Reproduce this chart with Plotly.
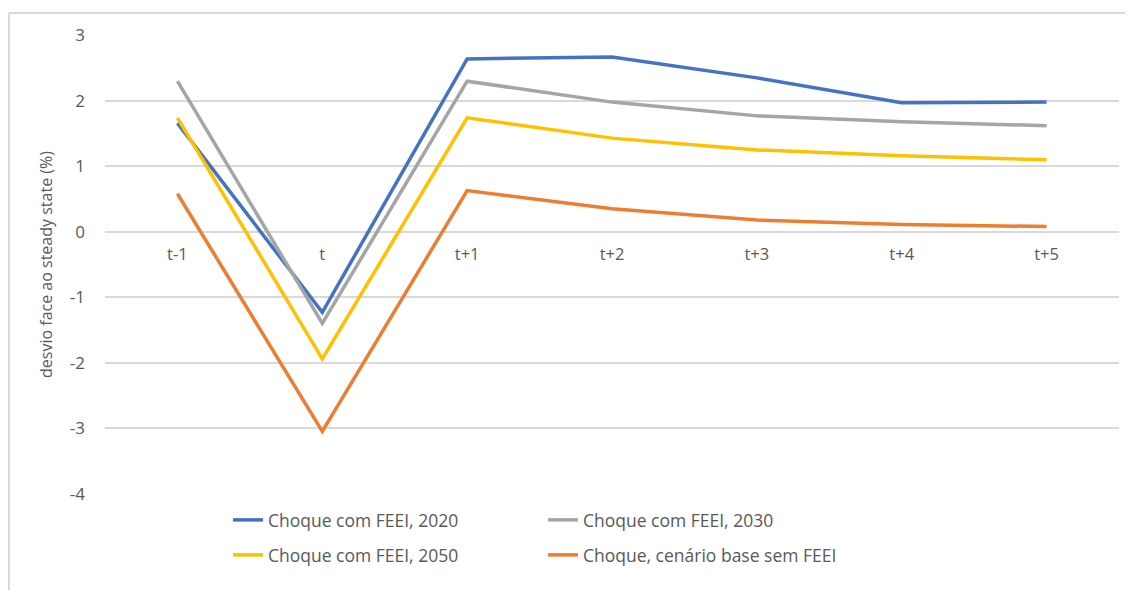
import plotly.graph_objects as go

categories = ["t-1", "t", "t+1", "t+2", "t+3", "t+4", "t+5"]
feei_2020 = [1.66, -1.23, 2.64, 2.67, 2.35, 1.97, 1.98]
feei_2030 = [2.30, -1.40, 2.30, 1.98, 1.77, 1.68, 1.62]
feei_2050 = [1.74, -1.94, 1.74, 1.43, 1.25, 1.16, 1.10]
base_sem_feei = [0.58, -3.05, 0.63, 0.35, 0.18, 0.11, 0.08]

series_names = ["Choque com FEEI, 2020", "Choque com FEEI, 2030",
                "Choque com FEEI, 2050", "Choque, cenário base sem FEEI"]
series_values = [feei_2020, feei_2030, feei_2050, base_sem_feei]
colors = ["#4472C4", "#A5A5A5", "#FFC000", "#ED7D31"]
legend_rows = ["legend", "legend", "legend2", "legend2"]

y_ticks = [-4, -3, -2, -1, 0, 1, 2, 3]
y_tick_text = ["-4", "-3", "-2", "-1", "0", "1", "2", "3"]
y_min, y_max = -4, 3

# page body has an 8px margin; figure is drawn from (8, 8)
OFF = 8
W, H = 1133 - OFF, 590 - OFF
ml, mr, mt, mb = 105 - OFF, W - (1119 - OFF), 35 - OFF, H - (494 - OFF)
pw = W - ml - mr
ph = H - mt - mb
FONT = "Open Sans, Liberation Sans, Arial"
TXT = "#595959"

fig = go.Figure()
for name, vals, col, lg in zip(series_names, series_values, colors, legend_rows):
    fig.add_trace(go.Scatter(x=categories, y=vals, name=name, mode="lines",
                             line=dict(color=col, width=3.5), legend=lg))

leg_common = dict(orientation="h", x=(235 - OFF - 7 - ml) / pw, xanchor="left",
                  yanchor="middle", entrywidth=270, entrywidthmode="pixels",
                  font=dict(size=17.5, color=TXT), itemwidth=30,
                  bgcolor="rgba(0,0,0,0)")

fig.update_layout(
    width=W, height=H,
    margin=dict(l=ml, r=mr, t=mt, b=mb, autoexpand=False),
    paper_bgcolor="white", plot_bgcolor="white",
    font=dict(family=FONT, color=TXT, size=16),
    showlegend=True,
    legend=dict(**leg_common, y=-(520 - OFF - mt - ph) / ph),
    legend2=dict(**leg_common, y=-(555 - OFF - mt - ph) / ph),
    xaxis=dict(type="category", anchor="free", range=[-0.5, 6.5],
               position=(0 - y_min) / (y_max - y_min),
               showgrid=False, showline=False, zeroline=False,
               ticks="", ticklabelstandoff=11, automargin=False,
               tickfont=dict(size=16.5, color=TXT), fixedrange=True),
    yaxis=dict(range=[y_min - 0.005, y_max + 0.005], tickvals=y_ticks,
               ticktext=y_tick_text, automargin=False,
               showgrid=True, gridcolor="#D9D9D9", gridwidth=1.5,
               zeroline=False, showline=False, ticks="",
               ticklabelstandoff=19,
               tickfont=dict(size=17, color=TXT),
               title=dict(text="desvio face ao steady state (%)",
                          font=dict(size=16, color=TXT), standoff=13)),
)

# chart frame (outer border)
top = 1 + (mt - (13 - OFF)) / ph
left = (0 - ml) / pw + 1 / pw
fig.add_shape(type="line", xref="paper", yref="paper",
              x0=left, x1=1.2, y0=top, y1=top,
              line=dict(color="#D9D9D9", width=2))
fig.add_shape(type="line", xref="paper", yref="paper",
              x0=left, x1=left, y0=-0.5, y1=top,
              line=dict(color="#D9D9D9", width=2))

fig.write_html("out.html")
